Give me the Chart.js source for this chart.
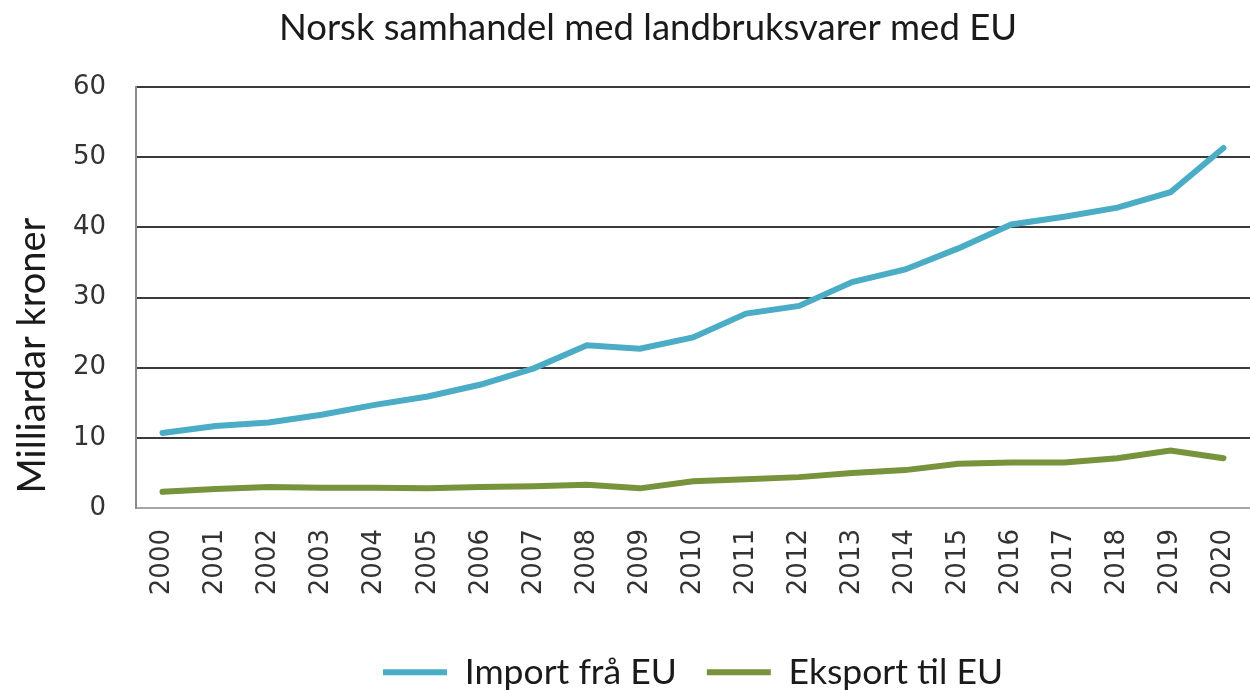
<!DOCTYPE html>
<html>
<head>
<meta charset="utf-8">
<script src="https://cdn.jsdelivr.net/npm/chart.js@4.4.1/dist/chart.umd.min.js"></script>
<style>
    html, body { margin: 0; padding: 0; background: #fff; }
    #wrap { width: 1250px; height: 690px; }
</style>
</head>
<body>
<div id="wrap"><canvas id="chart"></canvas></div>
<script>
// ── Data (milliardar kroner) ────────────────────────────────────
const years = ['2000', '2001', '2002', '2003', '2004', '2005', '2006', '2007', '2008', '2009', '2010',
    '2011', '2012', '2013', '2014', '2015', '2016', '2017', '2018', '2019', '2020'];
const importFraEU = [10.7, 11.7, 12.2, 13.3, 14.7, 15.9, 17.6, 19.9, 23.2, 22.7, 24.3,
    27.7, 28.8, 32.2, 34.0, 37.0, 40.4, 41.5, 42.8, 45.0, 51.3];
const eksportTilEU = [2.3, 2.7, 3.0, 2.9, 2.9, 2.8, 3.0, 3.1, 3.3, 2.8, 3.8,
    4.1, 4.4, 5.0, 5.4, 6.3, 6.5, 6.5, 7.1, 8.2, 7.1];
const yTicks = [0, 10, 20, 30, 40, 50, 60];

const TITLE = 'Norsk samhandel med landbruksvarer med EU';
const Y_TITLE = 'Milliardar kroner';

const TEXT_FONT = 'Lato, "Open Sans", sans-serif';
const TICK_FONT = '"DejaVu Sans", Verdana, sans-serif';

// Tittel og y-aksetittel teikna for hand (Excel plasserer dei litt ut av midten)
const titlesPlugin = {
    id: 'excelTitles',
    afterDraw(chart) {
        const { ctx, chartArea } = chart;
        ctx.save();
        ctx.fillStyle = '#1a1a1a';
        ctx.textAlign = 'center';
        ctx.textBaseline = 'alphabetic';

        ctx.font = '36.5px ' + TEXT_FONT;
        ctx.fillText(TITLE, 648, 40);

        ctx.translate(45, (chartArea.top + chartArea.bottom) / 2 + 58);
        ctx.rotate(-Math.PI / 2);
        ctx.font = '38px ' + TEXT_FONT;
        ctx.fillText(Y_TITLE, 0, 0);
        ctx.restore();
    }
};

new Chart(document.getElementById('chart'), {
    type: 'line',
    data: {
        labels: years,
        datasets: [{
            label: 'Import frå EU',
            data: importFraEU,
            borderColor: '#4bacc6',
            backgroundColor: '#4bacc6',
            borderWidth: 6,
            borderCapStyle: 'round',
            pointRadius: 0,
            tension: 0
        }, {
            label: 'Eksport til EU',
            data: eksportTilEU,
            borderColor: '#77933c',
            backgroundColor: '#77933c',
            borderWidth: 6,
            borderCapStyle: 'round',
            pointRadius: 0,
            tension: 0
        }]
    },
    options: {
        responsive: true,
        maintainAspectRatio: false,
        animation: false,
        layout: { padding: { left: 0, right: 0, top: 87, bottom: -10 } },
        plugins: {
            title: { display: false },
            legend: {
                position: 'bottom',
                fullSize: false,
                labels: {
                    usePointStyle: true,
                    pointStyle: 'line',
                    pointStyleWidth: 64,
                    color: '#1a1a1a',
                    font: { family: TEXT_FONT, size: 35.5 },
                    padding: 30
                }
            },
            tooltip: { enabled: false }
        },
        scales: {
            x: {
                offset: true,
                grid: { display: false, drawTicks: false },
                border: { display: true, color: '#a6a6a6', width: 2 },
                ticks: {
                    minRotation: 90,
                    maxRotation: 90,
                    autoSkip: false,
                    padding: 21,
                    color: '#333',
                    font: { family: TICK_FONT, size: 26 }
                },
                afterFit(scale) {
                    scale.height = 116.5;
                    scale.paddingLeft = 0;
                    scale.paddingRight = 0;
                }
            },
            y: {
                min: 0,
                max: 60,
                afterBuildTicks(scale) { scale.ticks = yTicks.map(v => ({ value: v })); },
                grid: {
                    drawTicks: false,
                    lineWidth: 2,
                    color: c => (c.tick && c.tick.value === 0) ? '#a6a6a6' : '#3a3a3a'
                },
                border: { display: true, color: '#8c8c8c', width: 2 },
                ticks: {
                    padding: 30,
                    color: '#333',
                    font: { family: TICK_FONT, size: 26 }
                },
                afterFit(scale) { scale.width = 136; }
            }
        }
    },
    plugins: [titlesPlugin]
});
</script>
</body>
</html>
